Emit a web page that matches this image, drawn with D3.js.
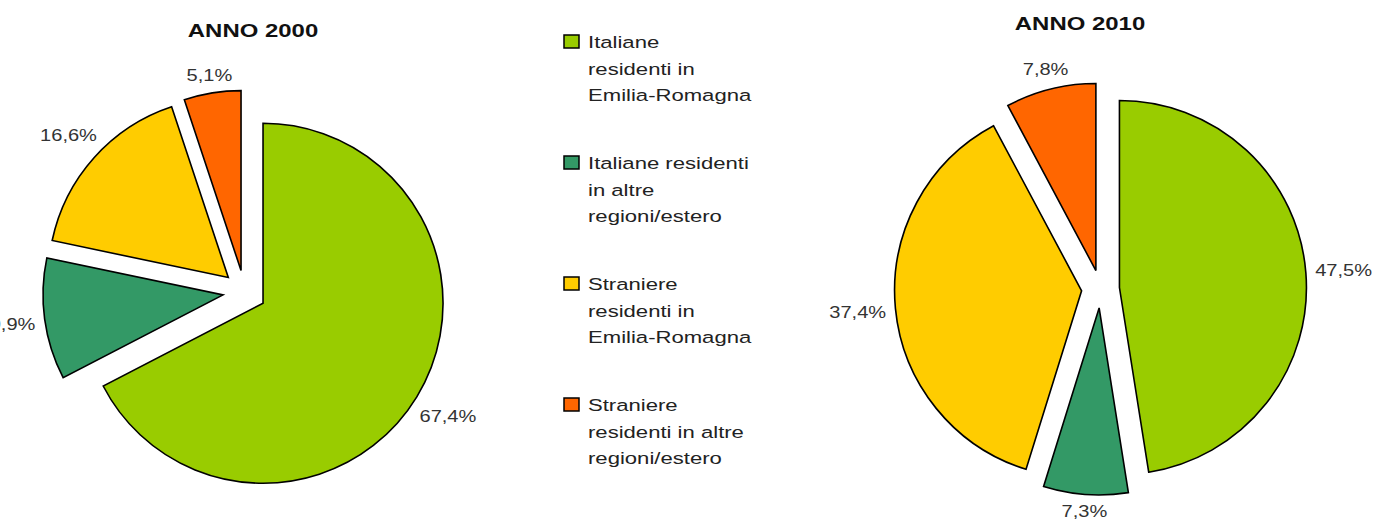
<!DOCTYPE html>
<html>
<head>
<meta charset="utf-8">
<script src="https://cdn.jsdelivr.net/npm/d3@7/dist/d3.min.js"></script>
<style>
  html, body { margin: 0; padding: 0; background: #fff; }
  svg { display: block; }
  text { font-family: "Liberation Sans", Arial, sans-serif; }
</style>
</head>
<body>
<svg id="chart" width="1376" height="526"></svg>
<script>
// ---- data ----
const categories = [
  "Italiane residenti in Emilia-Romagna",
  "Italiane residenti in altre regioni/estero",
  "Straniere residenti in Emilia-Romagna",
  "Straniere residenti in altre regioni/estero"
];
const legendLines = [
  ["Italiane", "residenti in", "Emilia-Romagna"],
  ["Italiane residenti", "in altre", "regioni/estero"],
  ["Straniere", "residenti in", "Emilia-Romagna"],
  ["Straniere", "residenti in altre", "regioni/estero"]
];
const years = ["ANNO 2000", "ANNO 2010"];
const values2000 = [67.4, 10.9, 16.6, 5.1];
const values2010 = [47.5, 7.3, 37.4, 7.8];
const colors = ["#99CC00", "#339966", "#FFCC00", "#FF6600"];

// ---- layout ----
const svg = d3.select("#chart");
const pies = [
  { title: years[0], values: values2000, cx: 244.5, cy: 292, r: 180, explode: 21.7, tx: 253, ty: 37 },
  { title: years[1], values: values2010, cx: 1100.5, cy: 289, r: 187, explode: 19, tx: 1080, ty: 30 }
];
const LABEL_SX = 1.18, LEGEND_SX = 1.3, TITLE_SX = 1.26;
const fmt = v => v.toFixed(1).replace(".", ",") + "%";

const pieGen = d3.pie().sort(null).startAngle(0).endAngle(2 * Math.PI).value(d => d);

pies.forEach(p => {
  const arcs = pieGen(p.values);
  const arc = d3.arc().innerRadius(0).outerRadius(p.r);
  const g = svg.append("g").attr("transform", `translate(${p.cx},${p.cy})`);

  arcs.forEach((a, i) => {
    const mid = (a.startAngle + a.endAngle) / 2;
    const dx = Math.sin(mid), dy = -Math.cos(mid);
    const ox = dx * p.explode, oy = dy * p.explode;
    g.append("path")
      .attr("d", arc(a))
      .attr("transform", `translate(${ox},${oy})`)
      .attr("fill", colors[i])
      .attr("stroke", "#000")
      .attr("stroke-width", 1.6)
      .attr("stroke-linejoin", "miter");

    // label
    const lg = g.append("g");
    const t = lg.append("text")
      .attr("text-anchor", "middle")
      .attr("font-size", 17)
      .attr("fill", "#333")
      .text(fmt(p.values[i]));
    const w = t.node().getComputedTextLength() * LABEL_SX;
    const h = 12;
    const half = Math.abs(dx) * w / 2 + Math.abs(dy) * h / 2;
    const dist = p.r + 9 + half;
    const lx = ox + dx * dist, ly = oy + dy * dist;
    lg.attr("transform", `translate(${lx},${ly + 6}) scale(${LABEL_SX},1)`);
  });

  svg.append("g")
    .attr("transform", `translate(${p.tx},${p.ty}) scale(${TITLE_SX},1)`)
    .append("text")
    .attr("text-anchor", "middle")
    .attr("font-size", 19)
    .attr("font-weight", "bold")
    .attr("fill", "#111")
    .text(p.title);
});

// ---- legend ----
const legend = svg.append("g").attr("class", "legend");
categories.forEach((c, i) => {
  const top = 35 + i * 121;
  legend.append("rect")
    .attr("x", 564).attr("y", top)
    .attr("width", 15).attr("height", 13)
    .attr("fill", colors[i])
    .attr("stroke", "#000")
    .attr("stroke-width", 1.5);
  legendLines[i].forEach((line, j) => {
    legend.append("g")
      .attr("transform", `translate(588,${top + 13 + j * 26.5}) scale(${LEGEND_SX},1)`)
      .append("text")
      .attr("font-size", 17)
      .attr("fill", "#222")
      .text(line);
  });
});
</script>
</body>
</html>
